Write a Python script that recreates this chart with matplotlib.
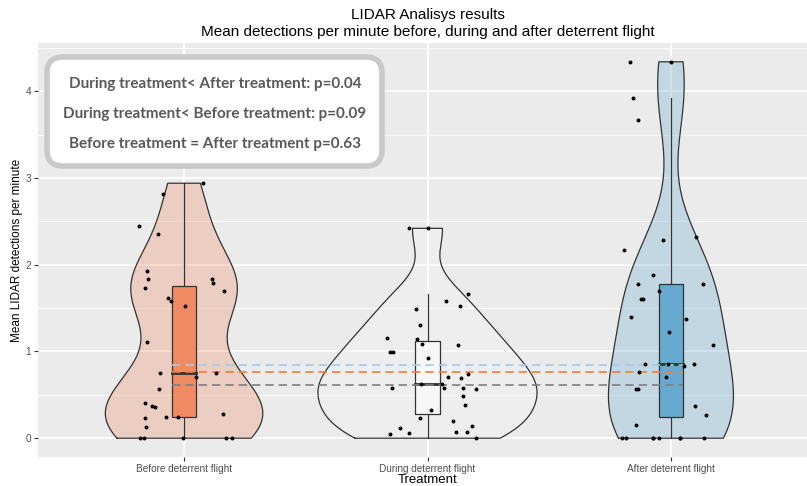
import numpy as np
import matplotlib
matplotlib.use("Agg")
import matplotlib.pyplot as plt
from matplotlib.patches import FancyBboxPatch, Rectangle, Polygon
from matplotlib.transforms import IdentityTransform
from matplotlib import font_manager

# ---------------- data ----------------
categories = ["Before deterrent flight", "During deterrent flight", "After deterrent flight"]

before_vals = [2.94, 2.81, 2.45, 2.35, 1.93, 1.83, 1.73, 1.84, 1.79, 1.70, 1.62, 1.58, 1.53,
               1.11, 0.75, 0.71, 0.75, 0.57, 0.41, 0.37, 0.36, 0.25, 0.25, 0.28, 0.23, 0.13,
               0, 0, 0, 0, 0]
before_jit = [0.078, -0.087, -0.186, -0.108, -0.152, -0.147, -0.159, 0.115, 0.119, 0.164, -0.066,
              -0.052, 0.005, -0.151, -0.097, 0.048, 0.133, -0.104, -0.161, -0.133, -0.120, -0.074,
              -0.025, 0.160, -0.161, -0.155, -0.179, -0.166, -0.003, 0.174, 0.197]

during_vals = [2.42, 2.42, 1.66, 1.58, 1.53, 1.49, 1.30, 1.15, 1.14, 1.09, 1.08, 0.99, 0.99,
               0.93, 0.71, 0.74, 0.69, 0.63, 0.62, 0.58, 0.58, 0.57, 0.58, 0.49, 0.38, 0.33,
               0.23, 0.20, 0.14, 0.12, 0.05, 0.06, 0.07, 0.07, 0]
during_jit = [-0.075, 0.001, 0.167, 0.077, 0.133, -0.046, -0.030, -0.168, -0.044, -0.023, 0.127,
              -0.152, -0.140, 0.001, 0.085, 0.166, 0.138, -0.026, 0.059, 0.069, 0.144, 0.198,
              -0.144, 0.144, 0.155, 0.014, -0.029, 0.106, 0.181, -0.111, -0.152, -0.074, 0.118,
              0.161, 0.198]

after_vals = [4.34, 4.34, 3.92, 3.67, 2.29, 2.32, 2.17, 1.88, 1.78, 1.78, 1.61, 1.61, 1.70,
              1.40, 1.38, 1.22, 1.08, 0.86, 0.86, 0.83, 0.86, 0.76, 0.70, 0.57, 0.57, 0.37,
              0.27, 0.15, 0, 0, 0, 0, 0, 0, 0, 0]
after_jit = [-0.168, 0.0, -0.157, -0.137, -0.032, 0.104, -0.192, -0.074, -0.136, 0.133, -0.124,
             -0.114, -0.048, -0.166, 0.063, -0.007, 0.172, -0.107, -0.014, 0.053, 0.093, -0.131,
             -0.021, -0.143, -0.134, 0.100, 0.143, -0.145, -0.200, -0.184, -0.074, -0.049, 0.037,
             0.134, -0.074, 0.037]

group_vals = [before_vals, during_vals, after_vals]
group_jit = [before_jit, during_jit, after_jit]

ref_line_values = [0.845, 0.76, 0.61]
ref_line_colors = ["#A9C9E6", "#EE7F3A", "#7F7F7F"]

annotation_lines = ["During treatment< After treatment: p=0.04",
                    "During treatment< Before treatment: p=0.09",
                    "Before treatment = After treatment p=0.63"]

title_text = "LIDAR Analisys results\nMean detections per minute before, during and after deterrent flight"
xlabel_text = "Treatment"
ylabel_text = "Mean LIDAR detections per minute"
yticks = [0, 1, 2, 3, 4]

fills = ["#EF8A62", "#F7F7F7", "#67A9CF"]

# ---------------- fonts ----------------
avail = {f.name for f in font_manager.fontManager.ttflist}
base_font = "Liberation Sans Narrow" if "Liberation Sans Narrow" in avail else "Liberation Sans"
plt.rcParams["font.family"] = [base_font, "DejaVu Sans"]
box_font = "Lato" if "Lato" in avail else "DejaVu Sans"

# ---------------- helpers ----------------
def bw_nrd0(x):
    x = np.asarray(x, float)
    sd = np.std(x, ddof=1)
    iqr = np.subtract(*np.percentile(x, [75, 25]))
    lo = min(sd, iqr / 1.34)
    if lo <= 0:
        lo = sd
    return 0.9 * lo * len(x) ** (-0.2)

def kde(x, grid, bw):
    x = np.asarray(x, float)
    z = (grid[:, None] - x[None, :]) / bw
    return np.exp(-0.5 * z ** 2).sum(axis=1) / (len(x) * bw * np.sqrt(2 * np.pi))

# ---------------- figure ----------------
W, H, DPI = 807, 486, 100
fig = plt.figure(figsize=(W / DPI, H / DPI), dpi=DPI)
fig.patch.set_facecolor("white")

ax_l, ax_r, ax_t, ax_b = 38, 817, 43, 457
ax = fig.add_axes([ax_l / W, (H - ax_b) / H, (ax_r - ax_l) / W, (ax_b - ax_t) / H])
ax.set_facecolor("#EBEBEB")
for s in ax.spines.values():
    s.set_visible(False)

ymax = max(max(v) for v in group_vals)
ymin = 0.0
pad = 0.05 * (ymax - ymin)
ax.set_xlim(0.4, 3.6)
ax.set_ylim(ymin - pad, ymax + pad)

# grid
for y in np.arange(0.5, 5.0, 1.0):
    ax.axhline(y, color="white", lw=0.6, zorder=0)
for y in yticks:
    ax.axhline(y, color="white", lw=1.2, zorder=0)
for x in [1, 2, 3]:
    ax.axvline(x, color="white", lw=1.2, zorder=0)

# violins (scale = area)
grids, dens = [], []
for v in group_vals:
    g = np.linspace(min(v), max(v), 512)
    d = kde(v, g, bw_nrd0(v))
    grids.append(g)
    dens.append(d)
dmax = max(d.max() for d in dens)
for i, (g, d) in enumerate(zip(grids, dens)):
    xc = i + 1
    hw = 0.45 * d / dmax
    xs = np.concatenate([xc - hw, (xc + hw)[::-1]])
    ys = np.concatenate([g, g[::-1]])
    poly = Polygon(np.column_stack([xs, ys]), closed=True, facecolor=fills[i], alpha=0.3,
                   edgecolor="none", zorder=2)
    ax.add_patch(poly)
    ax.plot(np.append(xs, xs[0]), np.append(ys, ys[0]), color="#333333", lw=0.9, zorder=2.1)

# boxplots
bw_box = 0.1
for i, v in enumerate(group_vals):
    xc = i + 1
    v = np.asarray(v, float)
    q1, med, q3 = np.percentile(v, [25, 50, 75])
    iqr = q3 - q1
    lo_w = v[v >= q1 - 1.5 * iqr].min()
    hi_w = v[v <= q3 + 1.5 * iqr].max()
    ax.plot([xc, xc], [q3, hi_w], color="#333333", lw=0.9, zorder=3)
    ax.plot([xc, xc], [lo_w, q1], color="#333333", lw=0.9, zorder=3)
    ax.add_patch(Rectangle((xc - bw_box / 2, q1), bw_box, q3 - q1, facecolor=fills[i],
                           edgecolor="#333333", lw=0.9, zorder=3))
    ax.plot([xc - bw_box / 2, xc + bw_box / 2], [med, med], color="#333333", lw=2.0, zorder=3.1)

# reference dashed lines
for val, col in zip(ref_line_values, ref_line_colors):
    ax.plot([1 - bw_box / 2, 3 + bw_box / 2], [val, val], color=col, lw=1.2,
            dashes=(5, 3), zorder=3.5)

# jittered points
for i, (v, j) in enumerate(zip(group_vals, group_jit)):
    ax.scatter(np.array(j) + i + 1, v, s=8, color="black", zorder=4, linewidths=0)

# axes ticks
ax.set_xticks([1, 2, 3])
ax.set_xticklabels(categories)
ax.set_yticks(yticks)
ax.set_yticklabels([str(t) for t in yticks])
ax.tick_params(axis="both", colors="#333333", length=3, width=0.8, labelsize=7.2,
               labelcolor="#4D4D4D", pad=2)
ax.set_xlabel(xlabel_text, fontsize=9.5, color="black", labelpad=0)
ax.set_ylabel(ylabel_text, fontsize=8.5, color="black", labelpad=2)
ax.set_title(title_text, fontsize=11, color="black", pad=5, linespacing=1.25)

# annotation box (pixel coordinates)
tr = IdentityTransform()
bx0, bx1, by0, by1 = 47, 382, 57, 166
box = FancyBboxPatch((bx0, H - by1), bx1 - bx0, by1 - by0,
                     boxstyle="round,pad=0,rounding_size=16",
                     facecolor="white", edgecolor="#C9C9C9", lw=4, transform=tr,
                     zorder=10)
fig.patches.append(box)
for k, (txt, yy) in enumerate(zip(annotation_lines, [84, 114, 144])):
    fig.text(215 / W, 1 - yy / H, txt, ha="center", va="center", fontsize=11,
             fontweight="bold", family=[box_font, "DejaVu Sans"], color="#595959", zorder=11)

fig.savefig("out.png", dpi=DPI)
